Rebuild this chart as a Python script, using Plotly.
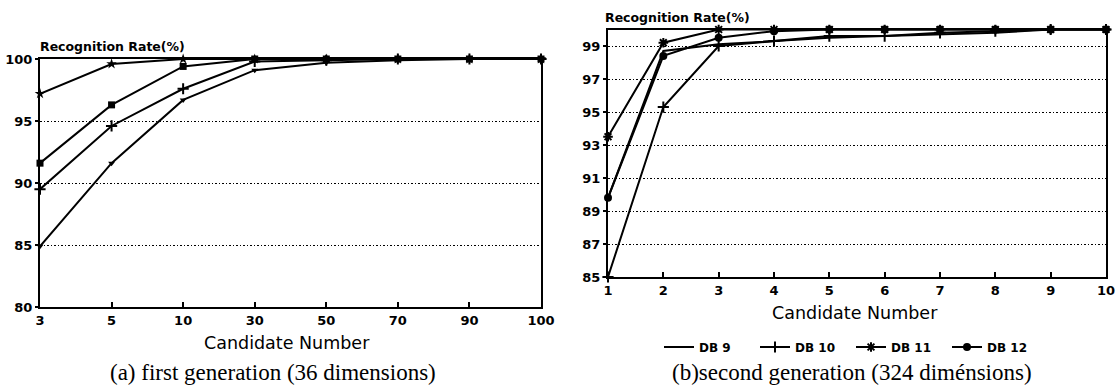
import plotly.graph_objects as go

# ---- data ----
cand_a = ["3", "5", "10", "30", "50", "70", "90", "100"]
a_db11 = [97.2, 99.6, 100.0, 100.0, 100.0, 100.0, 100.0, 100.0]
a_db12 = [91.6, 96.3, 99.4, 100.0, 100.0, 100.0, 100.0, 100.0]
a_db10 = [89.5, 94.6, 97.6, 99.8, 99.9, 100.0, 100.0, 100.0]
a_db9 = [84.9, 91.6, 96.7, 99.1, 99.7, 99.9, 100.0, 100.0]

cand_b = [1, 2, 3, 4, 5, 6, 7, 8, 9, 10]
b_db9 = [89.8, 98.7, 99.1, 99.3, 99.5, 99.6, 99.7, 99.8, 100.0, 100.0]
b_db10 = [85.0, 95.3, 99.0, 99.3, 99.6, 99.6, 99.8, 99.9, 100.0, 100.0]
b_db11 = [93.5, 99.2, 100.0, 100.0, 100.0, 100.0, 100.0, 100.0, 100.0, 100.0]
b_db12 = [89.8, 98.4, 99.5, 99.9, 100.0, 100.0, 100.0, 100.0, 100.0, 100.0]

yticks_a = [80, 85, 90, 95, 100]
yticks_b = [85, 87, 89, 91, 93, 95, 97, 99]

names = ["DB 9", "DB 10", "DB 11", "DB 12"]

W, H = 1116, 386
SANS = "DejaVu Sans"
SERIF = "Liberation Serif"

fig = go.Figure()

line = dict(color="black", width=2)

# left chart traces
left_series = [
    (a_db9, dict(symbol="triangle-down", size=6, color="black")),
    (a_db10, dict(symbol="cross-thin-open", size=8, color="black", line=dict(width=2, color="black"))),
    (a_db11, dict(symbol="star", size=8, color="black")),
    (a_db12, dict(symbol="square", size=7, color="black")),
]
for (vals, mk), nm in zip(left_series, names):
    fig.add_trace(go.Scatter(x=cand_a, y=vals, mode="lines+markers", line=line,
                             marker=mk, name=nm, showlegend=False,
                             xaxis="x", yaxis="y", cliponaxis=False))

# right chart traces
right_series = [
    (b_db9, "lines", dict()),
    (b_db10, "lines+markers", dict(symbol="cross-thin-open", size=8, color="black", line=dict(width=2, color="black"))),
    (b_db11, "lines+markers", dict(symbol="asterisk-open", size=8, color="black", line=dict(width=2, color="black"))),
    (b_db12, "lines+markers", dict(symbol="circle", size=8, color="black")),
]
for (vals, mode, mk), nm in zip(right_series, names):
    fig.add_trace(go.Scatter(x=cand_b, y=vals, mode=mode, line=line,
                             marker=mk if mk else None, name=nm, showlegend=True,
                             xaxis="x2", yaxis="y2", cliponaxis=False))

tickfont = dict(family=SANS, size=13, color="black", weight="bold")
common_x = dict(showline=True, linecolor="black", linewidth=2, mirror=True,
                ticks="inside", ticklen=5, tickwidth=2, tickcolor="black",
                showgrid=False, zeroline=False, tickfont=tickfont, automargin=False)
common_y = dict(showline=True, linecolor="black", linewidth=2, mirror=True,
                ticks="outside", ticklen=3, tickwidth=1.5, tickcolor="black",
                showgrid=True, gridcolor="black", griddash="1.5px,2px", gridwidth=1,
                zeroline=False, tickfont=tickfont, automargin=False)

fig.update_layout(
    width=W, height=H,
    margin=dict(l=0, r=0, t=0, b=0, autoexpand=False),
    paper_bgcolor="white", plot_bgcolor="white",
    xaxis=dict(domain=[40 / W, 541 / W], type="category", range=[0, 7],
               anchor="y", **common_x),
    yaxis=dict(domain=[1 - 307 / H, 1 - 59 / H], range=[80, 100],
               tickvals=yticks_a, anchor="x", **common_y),
    xaxis2=dict(domain=[608 / W, 1106 / W], range=[1, 10], tickvals=cand_b,
                anchor="y2", **common_x),
    yaxis2=dict(domain=[1 - 277 / H, 1 - 29.5 / H], range=[85, 100],
                tickvals=yticks_b, anchor="x2", **common_y),
    legend=dict(orientation="h", x=659 / W, xanchor="left", y=1 - 347 / H,
                yanchor="middle",
                font=dict(family=SANS, size=12, color="black", weight="bold"),
                itemwidth=30, entrywidth=51, bgcolor="rgba(0,0,0,0)"),
    showlegend=True,
)

ann = [
    dict(text="<b>Recognition Rate(%)</b>", x=38 / W, y=1 - 47 / H, xanchor="left",
         font=dict(family=SANS, size=12.5)),
    dict(text="<b>Recognition Rate(%)</b>", x=603 / W, y=1 - 18 / H, xanchor="left",
         font=dict(family=SANS, size=12.5)),
    dict(text="Candidate Number", x=287 / W, y=1 - 343 / H, xanchor="center",
         font=dict(family=SANS, size=17.5)),
    dict(text="Candidate Number", x=855 / W, y=1 - 313 / H, xanchor="center",
         font=dict(family=SANS, size=17.5)),
    dict(text="(a) first generation (36 dimensions)", x=273 / W, y=1 - 372 / H,
         xanchor="center", font=dict(family=SERIF, size=23)),
    dict(text="(b)second generation (324 diménsions)", x=852 / W, y=1 - 372 / H,
         xanchor="center", font=dict(family=SERIF, size=23)),
]
for a in ann:
    a.update(xref="paper", yref="paper", showarrow=False, yanchor="middle")
    a["font"]["color"] = "black"
    fig.add_annotation(**a)

fig.write_html(
    "out.html",
    config={"displayModeBar": False},
    post_script="document.body.style.margin='0';document.body.style.overflow='hidden';",
)
